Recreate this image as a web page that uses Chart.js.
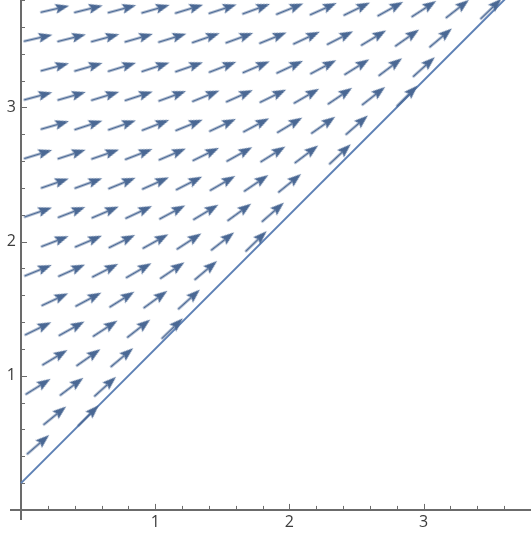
<!DOCTYPE html>
<html>
<head>
<meta charset="utf-8">
<title>Vector field</title>
<script src="https://cdn.jsdelivr.net/npm/chart.js@4.4.1/dist/chart.umd.min.js"></script>
<style>
  html, body { margin: 0; padding: 0; background: #fff; }
  #wrap { width: 531px; height: 535px; }
</style>
</head>
<body>
<div id="wrap"><canvas id="field" width="531" height="535"></canvas></div>
<script>
// --- Data ---
// rows of the staggered arrow grid, top to bottom
const rowY = [3.732, 3.516, 3.299, 3.083, 2.866, 2.649, 2.433, 2.217, 2.0, 1.783, 1.567, 1.35, 1.134, 0.917, 0.701, 0.485];
// arrow centres along x: even rows / odd rows
const evenCols = [0.25, 0.5, 0.75, 1.0, 1.25, 1.5, 1.75, 2.0, 2.25, 2.5, 2.75, 3.0, 3.25, 3.5];
const oddCols = [0.125, 0.375, 0.625, 0.875, 1.125, 1.375, 1.625, 1.875, 2.125, 2.375, 2.625, 2.875, 3.125];
// arrow direction (degrees, counterclockwise from +x), one list per row
const rowAngles = [
    [13, 14, 15, 16, 17, 18, 20, 22, 24, 26, 29, 33, 38, 44],
    [13, 14, 15, 16, 17, 19, 20, 22, 25, 27, 31, 35, 40],
    [15, 16, 17, 18, 19, 21, 23, 25, 28, 32, 37, 42],
    [15, 16, 17, 18, 20, 22, 24, 26, 30, 34, 38, 45],
    [16, 18, 19, 21, 22, 25, 28, 31, 35, 41],
    [17, 18, 19, 21, 23, 26, 29, 32, 37, 43],
    [19, 20, 22, 24, 27, 30, 34, 39],
    [19, 21, 23, 25, 28, 31, 36, 41],
    [21, 23, 26, 29, 33, 38, 44],
    [22, 24, 27, 30, 34, 40],
    [25, 28, 32, 36, 42],
    [26, 29, 33, 38, 44],
    [31, 35, 40],
    [32, 37, 42],
    [39, 45],
    [41]
];
// boundary line
const lineX = [0, 3.8];
const lineY = [0.2, 4.0];
// axis ticks
const majorTicks = [1, 2, 3];
const minorTicks = [0.2, 0.4, 0.6, 0.8, 1.2, 1.4, 1.6, 1.8, 2.2, 2.4, 2.6, 2.8, 3.2, 3.4, 3.6, 3.8];

const arrowColor = '#4a6894';
const lineColor = '#5e81b5';
const axisColor = '#6b6b6b';

// arrow glyph used as point style, pointing right, centred
function makeArrow() {
    const c = document.createElement('canvas');
    c.width = 30;
    c.height = 11;
    const g = c.getContext('2d');
    g.strokeStyle = arrowColor;
    g.fillStyle = arrowColor;
    g.lineWidth = 1.9;
    g.beginPath();
    g.moveTo(0.5, 5.5);
    g.lineTo(18.5, 5.5);
    g.stroke();
    g.beginPath();
    g.moveTo(30, 5.5);
    g.lineTo(16, 0.6);
    g.lineTo(18.5, 5.5);
    g.lineTo(16, 10.4);
    g.closePath();
    g.fill();
    return c;
}

const arrowPoints = [];
rowAngles.forEach((angles, k) => {
    const cols = k % 2 === 0 ? evenCols : oddCols;
    angles.forEach((a, i) => arrowPoints.push({ x: cols[i], y: rowY[k], a: a }));
});

// Mathematica-like axes through the origin, ticks pointing inward
const axesPlugin = {
    id: 'originAxes',
    beforeDatasetsDraw(chart) {
        const { ctx, chartArea: area, scales: { x, y } } = chart;
        const x0 = x.getPixelForValue(0);
        const y0 = y.getPixelForValue(0);
        ctx.save();
        ctx.strokeStyle = axisColor;
        ctx.lineWidth = 2;
        ctx.beginPath();
        ctx.moveTo(area.left, y0);
        ctx.lineTo(area.right, y0);
        ctx.moveTo(x0, area.top);
        ctx.lineTo(x0, area.bottom);
        ctx.stroke();

        ctx.lineWidth = 1;
        const tick = (v, len) => {
            const px = Math.round(x.getPixelForValue(v)) + 0.5;
            const py = Math.round(y.getPixelForValue(v)) + 0.5;
            ctx.moveTo(px, y0);
            ctx.lineTo(px, y0 - len);
            ctx.moveTo(x0, py);
            ctx.lineTo(x0 + len, py);
        };
        ctx.beginPath();
        minorTicks.forEach(v => tick(v, 4));
        majorTicks.forEach(v => tick(v, 6));
        ctx.stroke();

        ctx.fillStyle = '#3c3c3c';
        ctx.font = '16px "Open Sans", "DejaVu Sans", sans-serif';
        ctx.textBaseline = 'middle';
        ctx.textAlign = 'center';
        majorTicks.forEach(v => ctx.fillText(String(v), x.getPixelForValue(v), y0 + 13));
        ctx.textAlign = 'right';
        majorTicks.forEach(v => ctx.fillText(String(v), x0 - 5, y.getPixelForValue(v)));
        ctx.restore();
    }
};

new Chart(document.getElementById('field'), {
    type: 'scatter',
    data: {
        datasets: [
            {
                label: 'field',
                data: arrowPoints,
                pointStyle: makeArrow(),
                rotation: c => (c.raw ? -c.raw.a : 0),
                pointRadius: 3,
                order: 0
            },
            {
                label: 'boundary',
                data: lineX.map((v, i) => ({ x: v, y: lineY[i] })),
                showLine: true,
                borderColor: lineColor,
                borderWidth: 2,
                pointRadius: 0,
                order: 1
            }
        ]
    },
    options: {
        responsive: false,
        animation: false,
        events: [],
        devicePixelRatio: 1,
        layout: { autoPadding: false, padding: { left: 10, right: 0, top: 0, bottom: 15 } },
        scales: {
            x: { type: 'linear', min: -0.082, max: 3.8, display: false },
            y: { type: 'linear', min: -0.075, max: 3.8, display: false }
        },
        plugins: { legend: { display: false }, tooltip: { enabled: false } }
    },
    plugins: [axesPlugin]
});
</script>
</body>
</html>
